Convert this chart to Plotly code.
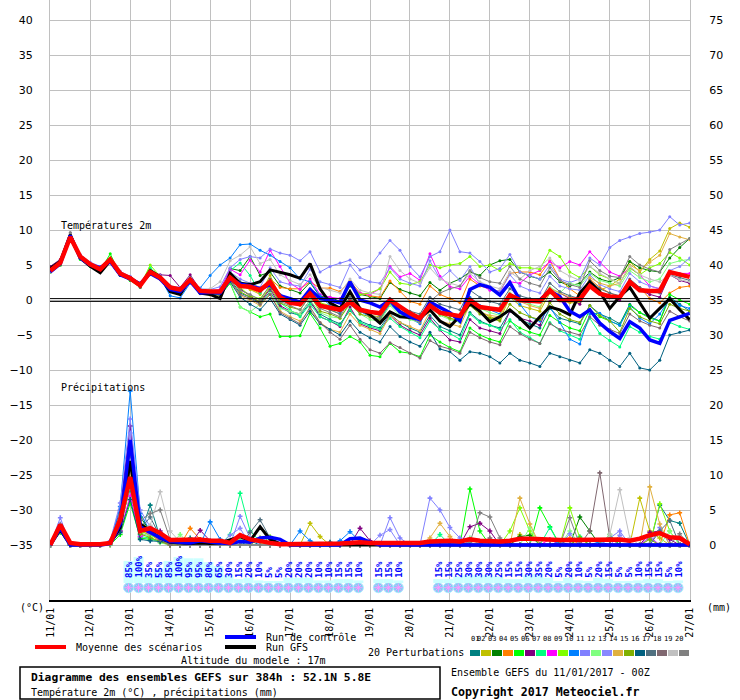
import plotly.graph_objects as go
import pandas as pd

# 6-hourly steps, 0 to 384h
times = pd.date_range("2017-01-11 00:00", periods=65, freq="6h")

member_colors = ["#008080", "#C0C000", "#008000", "#FF8000", "#00FF00",
                 "#800080", "#00FF80", "#FF00FF", "#80FF00", "#0080FF",
                 "#8080FF", "#80FF80", "#8888FF", "#E0B040", "#80B000",
                 "#006080", "#507080", "#806870", "#C0C0C0", "#808080"]

# ---- 2m temperature (degC) ----
mean_t = [4.2, 5.3, 9.0, 6.2, 5.1, 4.4, 5.8, 3.8, 3.1, 2.1, 4.0, 3.2, 1.8, 1.5, 2.9, 1.3, 1.2,
          1.2, 3.2, 2.0, 1.9, 1.4, 2.6, 0.4, -0.4, -0.6, 0.9, -0.8, -1.1, -1.4, -0.3, -1.4, -1.7,
          -1.9, 0.0, -1.0, -1.9, -2.6, -0.8, -1.8, -2.0, -2.3, 0.0, -1.0, -1.2, -1.4, 0.7, 0.0, -0.1,
          -0.2, 1.4, 0.0, 0.0, 0.1, 2.0, 0.9, 0.5, 0.4, 2.6, 1.4, 1.3, 1.3, 4.0, 3.6, 3.3]
ctrl_t = [4.0, 5.2, 9.2, 6.0, 5.0, 4.6, 5.5, 3.6, 3.0, 2.3, 3.8, 3.0, 1.5, 1.2, 2.7, 1.0, 1.1,
          1.0, 3.0, 2.3, 2.0, 1.6, 2.2, 0.6, 0.2, -0.3, 1.5, 0.2, 0.0, -0.4, 2.6, 0.0, -0.4,
          -1.0, 0.0, -1.7, -2.4, -2.8, -0.3, -1.0, -1.8, -3.0, 1.5, 2.2, 1.8, 0.7, 2.5, 0.0, -0.2,
          0.0, 1.3, 0.5, -1.6, -2.4, -1.4, -3.3, -4.5, -5.5, -3.1, -4.0, -5.7, -6.2, -2.9, -2.4, -1.9]
gfs_t = [4.5, 5.5, 9.3, 6.0, 4.8, 3.9, 5.6, 3.6, 3.2, 2.0, 4.2, 3.3, 1.2, 0.8, 3.0, 1.0, 0.8,
         0.2, 3.8, 2.4, 2.2, 2.6, 4.3, 4.0, 3.6, 3.1, 5.2, 1.6, -0.4, -1.2, 1.2, -1.2, -2.1,
         -3.3, -1.7, -2.4, -2.5, -2.6, -1.4, -3.0, -3.8, -2.3, -0.5, -1.6, -3.1, -2.4, -1.4, -2.6, -4.0,
         -2.4, -1.0, -1.4, -2.1, 1.0, 2.6, 1.2, -1.2, 0.5, 1.8, -0.5, -2.6, -1.2, 0.2, -1.4, -2.8]

t01 = [4.0, 5.0, 8.8, 6.0, 5.2, 4.5, 5.6, 3.5, 2.8, 2.0, 3.8, 3.0, 1.6, 1.0, 2.6, 1.2, 1.0,
       0.8, 3.0, 1.0, 0.4, -0.5, 1.2, -1.0, -1.8, -2.2, -0.4, -2.0, -2.8, -3.4, -1.5, -3.0, -3.6,
       -4.0, -2.0, -3.2, -4.0, -4.6, -2.2, -3.8, -4.4, -5.0, -1.8, -3.0, -3.6, -4.0, -1.6, -2.8, -3.4,
       -4.0, -1.2, -2.6, -3.0, -3.4, -0.8, -2.0, -2.6, -3.4, -0.6, -1.8, -2.4, -3.0, 0.4, -0.6, -1.6]
t02 = [4.4, 5.4, 9.1, 6.3, 5.0, 4.3, 5.9, 3.7, 3.0, 2.2, 4.2, 3.1, 1.7, 1.4, 3.0, 1.2, 1.1,
       1.0, 4.0, 2.2, 1.5, 0.8, 3.5, 0.5, -0.2, -0.8, 1.0, -1.0, -1.4, -2.0, 0.5, -1.6, -2.2,
       -2.4, -0.5, -1.6, -2.2, -3.0, -0.6, -2.0, -2.6, -3.0, -0.4, -1.6, -2.4, -2.8, 0.4, -0.8, -1.2,
       -1.6, 1.0, 0.0, -0.4, -0.4, 2.2, 1.4, 2.0, 3.0, 5.5, 4.0, 5.8, 7.0, 10.2, 11.0, 10.4]
t03 = [4.6, 5.6, 9.0, 6.0, 5.0, 4.5, 5.7, 3.9, 3.3, 2.3, 4.3, 3.5, 1.8, 1.5, 3.0, 1.4, 1.3,
       1.2, 4.5, 4.2, 6.2, 3.5, 4.0, 2.0, 1.5, 1.0, 2.5, 0.5, 0.4, -0.2, 2.0, 0.8, 0.5,
       0.2, 2.5, 1.5, 1.0, 0.6, 2.5, 1.4, 2.4, 3.0, 4.0, 3.5, 5.0, 5.6, 5.8, 4.0, 3.4,
       3.0, 4.0, 2.6, 2.0, 2.4, 4.0, 3.0, 2.6, 3.2, 5.5, 4.6, 4.2, 4.0, 6.0, 7.5, 8.8]
t04 = [4.3, 5.2, 8.9, 6.1, 5.1, 4.3, 5.7, 3.8, 3.2, 2.0, 3.9, 3.3, 1.9, 1.6, 2.9, 1.0, 0.8,
       0.9, 3.4, 2.0, 1.6, 1.0, 3.0, 1.8, 1.6, 1.6, 2.6, 1.7, 1.7, 1.2, 2.7, 1.0, 0.6,
       0.4, 2.7, 1.2, -0.2, -0.6, 2.0, 0.8, 0.2, -0.4, 3.0, 2.0, 1.6, 1.2, 3.8, 4.0, 4.0,
       3.6, 5.6, 3.0, 1.6, 0.6, 3.0, 1.8, 1.0, 0.4, 2.4, 1.8, 0.2, -0.4, 1.0, 1.8, 2.0]
t05 = [4.0, 5.0, 8.6, 5.8, 4.8, 4.2, 6.6, 3.6, 2.8, 1.8, 4.4, 3.0, 1.6, 1.3, 2.6, 1.0, 0.9,
       0.6, 2.4, -1.0, -1.7, -2.4, -2.0, -5.2, -5.2, -5.1, -1.9, -4.0, -6.6, -6.2, -5.2, -6.0, -7.9,
       -8.1, -6.2, -7.4, -7.6, -8.1, -5.0, -6.0, -6.8, -7.4, -4.0, -5.0, -5.6, -6.0, -3.0, -4.0, -4.6,
       -5.0, -2.2, -3.2, -4.0, -4.4, -1.4, -2.4, -3.0, -3.6, -0.8, -1.8, -2.6, -3.0, 0.8, 0.0, -0.6]
t06 = [4.8, 5.8, 9.3, 6.4, 5.2, 4.4, 5.9, 4.0, 3.3, 2.4, 4.1, 3.6, 3.5, 1.8, 3.6, 1.5, 1.2,
       1.1, 3.1, 1.6, 0.6, -0.4, 1.6, -0.8, -1.6, -2.0, 0.0, -2.4, -3.0, -3.8, -1.0, -3.4, -4.0,
       -4.4, -2.2, -3.6, -4.4, -5.0, -2.6, -4.3, -5.7, -6.0, -2.8, -4.0, -4.4, -4.8, -1.6, -2.6, -3.0,
       -3.6, -0.2, 1.0, 0.2, -0.6, 2.2, 1.0, 0.4, 0.0, 2.6, 1.4, 0.8, 0.4, 3.6, 2.8, 2.4]
t07 = [4.1, 5.1, 8.9, 6.2, 5.2, 4.6, 5.8, 3.6, 3.0, 2.2, 4.6, 3.2, 1.7, 1.4, 2.8, 1.3, 1.2,
       1.4, 4.2, 5.3, 3.5, 1.0, 2.4, -0.4, -1.4, -2.4, -0.6, -2.4, -3.0, -3.6, -1.4, -3.2, -3.8,
       -4.2, -2.6, -3.8, -4.6, -5.4, -3.0, -4.2, -4.8, -5.6, -2.0, -3.2, -3.6, -4.2, -2.8, -4.6, -5.4,
       -6.2, -3.2, -4.4, -5.0, -5.6, -2.6, -4.8, -5.8, -6.7, -3.8, -4.6, -5.2, -5.6, -3.2, -3.8, -4.2]
t08 = [4.5, 5.5, 9.0, 6.1, 5.0, 4.3, 5.6, 3.7, 3.1, 2.3, 4.1, 3.1, 1.8, 1.6, 3.1, 1.4, 1.3,
       1.5, 4.4, 3.6, 5.7, 4.0, 7.1, 4.8, 2.4, 1.5, 3.0, 0.8, 0.4, 0.2, 2.2, 1.0, 0.8,
       1.6, 4.8, 3.3, 3.8, 2.8, 6.6, 3.4, 1.9, 1.6, 3.4, 2.2, 1.4, 1.2, 2.6, 2.4, 3.6,
       4.2, 5.5, 4.6, 5.5, 5.0, 6.9, 5.4, 4.0, 3.4, 4.6, 3.6, 2.0, 1.6, 3.6, 3.8, 3.8]
t09 = [4.2, 5.2, 9.1, 6.3, 5.1, 4.4, 6.0, 3.9, 3.2, 2.0, 5.0, 3.4, 1.7, 1.5, 3.2, 1.2, 1.0,
       0.8, 3.0, 1.8, 0.6, 0.2, 2.0, 0.4, -0.2, -0.6, 1.4, -0.4, -0.8, -1.2, 2.4, 0.8, 1.0,
       1.6, 4.0, 2.4, 2.2, 2.6, 5.0, 4.6, 5.0, 5.2, 6.2, 4.8, 5.0, 4.2, 5.2, 4.6, 4.6,
       4.4, 7.1, 6.2, 4.0, 3.2, 4.8, 3.6, 3.0, 2.4, 4.6, 3.6, 4.6, 5.2, 6.8, 6.0, 5.0]
t10 = [4.3, 5.3, 9.0, 6.2, 5.2, 4.5, 5.7, 3.8, 3.0, 2.0, 3.8, 3.2, 0.6, 0.3, 2.4, 1.7, 3.5,
       5.0, 6.0, 7.9, 8.0, 7.1, 6.4, 5.5, 4.6, 3.0, 2.6, 0.6, -0.8, -1.8, 0.2, -1.6, -2.4,
       -2.8, -0.6, -2.0, -2.6, -3.4, -0.4, -1.6, -2.2, -2.8, 0.4, -0.8, -1.4, -2.0, 0.8, -0.6, -2.4,
       -3.0, -1.0, -3.2, -5.6, -6.3, -2.0, -1.9, -3.0, -3.6, -1.0, -2.6, -3.4, -2.0, 0.2, -0.8, -1.2]
t11 = [4.4, 5.6, 9.2, 6.5, 5.4, 4.8, 5.7, 4.0, 3.4, 2.4, 3.9, 3.5, 2.0, 1.8, 3.2, 1.6, 1.5,
       1.9, 4.6, 5.8, 6.2, 6.0, 7.3, 6.7, 6.4, 5.6, 6.9, 4.0, 4.8, 5.3, 5.7, 4.3, 4.8,
       6.7, 8.5, 7.1, 4.8, 3.3, 6.2, 6.9, 10.0, 6.9, 6.7, 5.5, 4.0, 4.5, 6.5, 4.0, 3.5,
       3.0, 5.0, 3.0, 2.5, 3.0, 6.0, 5.0, 7.5, 8.5, 9.0, 9.5, 9.7, 10.0, 11.9, 10.7, 11.0]
t12 = [4.0, 5.1, 8.8, 6.0, 4.9, 4.2, 5.5, 3.5, 2.9, 1.9, 3.6, 3.0, 1.5, 1.2, 2.6, 1.1, 1.0,
       0.9, 2.6, -1.0, -1.7, -0.6, 1.0, -1.2, -1.6, -2.0, 0.0, -1.8, -2.4, -2.6, -0.6, -2.0, -2.8,
       -3.0, -0.8, -2.2, -2.8, -3.2, -1.0, -2.2, -2.8, -3.2, 0.0, -1.2, -1.8, -2.2, 1.0, 0.0, -0.6,
       -1.0, 1.8, 1.0, 2.4, 2.0, 3.8, 2.8, 2.4, 2.0, 4.2, 3.2, 2.6, 3.0, 5.2, 5.6, 5.8]
t13 = [4.5, 5.4, 9.1, 6.3, 5.3, 4.6, 5.8, 4.1, 3.3, 2.2, 4.0, 3.3, 1.9, 1.7, 3.0, 1.5, 1.4,
       1.3, 4.0, 3.0, 2.4, 1.8, 4.6, 2.6, 2.2, 2.0, 4.4, 2.6, 2.2, 1.8, 5.0, 3.2, 2.6,
       2.4, 4.6, 3.0, 2.4, 2.0, 5.6, 3.0, 4.2, 2.8, 4.8, 2.2, 1.6, 1.2, 3.6, 2.0, 1.4,
       1.0, 3.4, 2.0, 1.6, 1.4, 3.6, 2.2, 1.6, 1.2, 3.8, 2.6, 2.0, 1.6, 4.2, 4.8, 6.0]
t14 = [4.1, 5.2, 8.9, 6.0, 5.0, 4.3, 5.6, 3.7, 3.0, 2.1, 3.9, 3.1, 1.6, 1.3, 2.8, 0.9, 0.7,
       0.6, 2.8, 0.6, 0.0, -0.8, 0.8, -1.6, -2.4, -3.0, -1.4, -3.2, -4.2, -4.6, -2.0, -3.6, -4.2,
       -4.8, -2.2, -3.2, -3.8, -4.4, -1.6, -3.0, -3.4, -3.8, -0.6, -1.8, -2.2, -2.4, 0.6, -0.2, -0.8,
       -1.2, 1.6, 1.0, 0.4, 0.0, 3.2, 2.4, 2.0, 2.4, 5.0, 4.2, 5.4, 6.4, 9.5, 9.0, 8.6]
t15 = [4.2, 5.0, 8.8, 6.0, 5.0, 4.4, 5.6, 3.8, 3.1, 2.1, 3.9, 3.2, 1.7, 1.5, 2.8, 1.2, 1.1,
       1.0, 3.6, 1.2, 0.4, -0.2, 1.8, -0.4, -1.0, -1.4, 0.6, -1.6, -2.0, -2.6, -0.4, -2.0, -2.4,
       -2.8, -0.2, -1.6, -2.2, -2.8, -0.6, -2.0, -2.6, -3.0, -0.8, -2.0, -2.6, -3.0, -0.6, -1.8, -2.4,
       -2.8, -0.4, -2.0, -2.8, -3.2, -0.8, -2.2, -3.0, -4.6, -1.2, -2.4, -3.0, -3.4, -0.6, -1.2, -1.6]
t16 = [4.3, 5.1, 8.9, 6.1, 5.0, 4.2, 5.6, 3.5, 2.9, 2.0, 3.7, 3.0, 1.3, 1.0, 2.5, 1.0, 0.9,
       0.7, 2.6, 0.4, -0.6, -1.4, 0.2, -2.0, -2.8, -3.6, -1.6, -3.4, -4.2, -5.0, -3.0, -4.6, -5.4,
       -6.0, -3.8, -5.2, -6.0, -6.6, -4.6, -7.0, -7.4, -8.6, -7.4, -7.6, -8.1, -9.0, -7.6, -8.6, -9.0,
       -9.5, -7.6, -8.1, -8.6, -9.0, -7.1, -7.6, -8.6, -9.5, -7.6, -9.7, -10.0, -8.6, -5.0, -4.6, -4.3]
t17 = [4.4, 5.3, 9.0, 6.2, 5.1, 4.5, 5.9, 3.8, 3.2, 2.2, 4.1, 3.2, 1.9, 1.6, 3.0, 1.3, 1.2,
       1.2, 3.4, 2.6, 1.8, 1.2, 3.0, 0.8, 0.2, -0.4, 1.6, -0.8, -1.4, -2.0, 0.4, -1.4, -1.8,
       -2.2, 0.2, -1.0, -1.6, -2.0, 0.4, -0.6, -1.0, -1.4, 1.4, 0.4, -0.2, -0.6, 1.6, 0.6, 0.2,
       -0.2, 2.4, 1.2, 0.6, 0.2, 2.8, 1.6, 1.0, 0.6, 3.0, 1.8, 1.2, 1.0, 3.6, 3.2, 2.8]
t18 = [4.6, 5.5, 9.6, 6.3, 5.0, 4.4, 5.8, 3.6, 3.0, 1.8, 3.8, 3.0, 1.6, 1.4, 2.7, 1.1, 1.0,
       0.8, 2.8, 0.8, 0.2, -0.6, 0.8, -1.8, -2.6, -3.4, -1.0, -3.2, -4.6, -5.6, -3.6, -5.6, -7.1,
       -7.6, -6.1, -6.8, -7.6, -8.3, -5.8, -6.6, -7.0, -7.6, -4.6, -5.4, -6.0, -6.4, -3.8, -4.8, -5.6,
       -6.2, -3.4, -4.2, -4.6, -5.0, -2.4, -3.6, -4.2, -4.8, -2.0, -3.0, -3.6, -4.0, -1.6, -2.4, -3.0]
t19 = [4.2, 5.3, 9.2, 6.2, 5.1, 4.5, 5.9, 3.8, 3.2, 2.2, 4.2, 3.2, 1.8, 1.6, 3.1, 1.5, 1.6,
       2.6, 5.6, 6.4, 7.6, 5.2, 5.8, 3.6, 2.8, 2.2, 3.6, 1.8, 1.4, 1.0, 3.0, 1.4, 1.0,
       0.8, 6.2, 4.2, 3.0, 2.4, 4.6, 3.0, 2.4, 2.0, 3.8, 2.6, 2.0, 1.6, 4.0, 3.0, 4.2,
       4.8, 6.0, 4.2, 3.4, 2.8, 4.8, 3.8, 3.0, 2.4, 4.8, 3.6, 3.0, 2.6, 3.6, 2.9, 2.6]
t20 = [4.0, 5.2, 9.6, 6.1, 5.0, 4.3, 5.8, 3.7, 3.0, 2.0, 3.9, 3.1, 1.7, 1.4, 2.8, 1.1, 1.0,
       0.9, 3.2, 1.4, 0.8, 0.0, 2.2, -0.2, -0.8, -1.4, 0.6, -1.2, -1.8, -2.4, 0.2, -1.6, -2.2,
       -2.6, -0.4, -1.8, -2.6, -3.2, -0.2, 1.0, 1.6, 2.0, 4.2, 3.2, 2.6, 2.4, 4.8, 3.0, 2.4,
       2.0, 4.6, 2.8, 2.2, 1.8, 5.6, 4.2, 3.4, 3.2, 6.2, 5.0, 4.4, 4.0, 7.2, 8.0, 8.8]

# ---- 6h precipitation (mm) ----
mean_p = [0, 2.9, 0.3, 0.1, 0.1, 0.1, 0.3, 3.6, 9.7, 2.0, 2.4, 1.7, 0.7, 0.7, 0.7, 0.8,
          0.6, 0.6, 0.3, 1.4, 0.8, 0.5, 0.3, 0.1, 0.1, 0.1, 0.1, 0.1, 0.1, 0.2, 0.3, 0.4,
          0.3, 0.3, 0.2, 0.2, 0.2, 0.3, 0.5, 0.6, 0.6, 0.5, 0.8, 0.6, 0.5, 0.5, 0.6, 0.9,
          0.9, 0.8, 0.7, 0.7, 0.7, 0.7, 0.8, 0.8, 0.8, 0.8, 0.6, 0.9, 1.4, 1.7, 1.1, 1.0, 0.1]
ctrl_p = [0, 2.4, 0, 0, 0, 0, 0.2, 3.0, 15.0, 2.6, 1.8, 1.0, 0.5, 0.4, 0.3, 0.6,
          0.4, 0.3, 0.2, 0.5, 0.4, 1.0, 1.1, 0.8, 0, 0, 0, 0, 0, 0, 0.9, 1.0,
          0.4, 0, 0, 0, 0, 0, 0, 0, 0, 0, 0, 0, 0, 0, 0, 0,
          0, 0, 0, 0, 0, 0, 0, 0, 0, 0, 0, 0, 0, 0, 0, 0, 0]
gfs_p = [0, 2.2, 0, 0, 0, 0, 0.3, 2.5, 12.0, 3.0, 2.0, 1.0, 0.4, 0.3, 0.2, 0.3,
         0.2, 0.3, 0.8, 1.2, 0.6, 2.6, 0.8, 0.2, 0, 0, 0, 0, 0, 0, 0, 0,
         0, 0, 0, 0, 0, 0, 0, 0, 0, 0, 0, 0, 0, 0, 0, 0,
         0, 0, 0, 0, 0, 0, 0, 0, 0, 0, 0, 0, 0, 0, 0, 0, 0]

p01 = [0, 2.0, 0, 0, 0, 0, 0.2, 3.0, 8.0, 1.5, 5.7, 1.0, 0.5, 0, 1.0, 0,
       0, 0, 0, 0, 0.6, 0, 0, 0, 0, 0, 0, 0, 0, 0, 0, 0,
       0, 0, 0, 0, 0, 0, 0, 0, 0, 0, 0, 0, 0, 0, 0, 0,
       0, 0, 0, 0, 0, 0, 0, 0, 0, 0, 0, 0, 0, 5.7, 3.5, 3.1, 0]
p02 = [0, 2.6, 0, 0, 0, 0, 0.3, 4.5, 11.0, 3.0, 2.5, 1.0, 0.8, 0, 0, 0,
       0, 0, 0, 0, 0, 0, 0, 0, 0, 0, 3.1, 1.2, 0, 0, 0, 0,
       0, 0, 0, 0, 0, 0, 0, 0, 0, 0, 0, 0, 0, 0, 0, 1.5,
       0, 0, 0, 0, 0, 0, 0, 0, 0, 0, 0, 6.7, 2.0, 1.0, 0, 0, 0]
p03 = [0, 2.2, 0, 0, 0, 0, 0.1, 2.0, 9.0, 4.0, 2.0, 1.0, 0.4, 0, 0, 0.8,
       0, 0, 0, 0, 0, 0, 0, 0, 0, 0, 0, 0, 0, 0, 0, 0,
       0, 0, 0, 0, 0, 0, 0, 0, 0, 0, 0, 0, 0, 0, 0, 1.2,
       1.4, 0, 0, 0, 0, 4.0, 2.0, 0, 0, 0, 0, 0, 0, 0, 0, 0, 0]
p04 = [0, 2.8, 0, 0, 0, 0, 0.2, 3.5, 14.0, 2.0, 1.5, 0.5, 0, 0, 2.4, 0.8,
       0, 0, 0, 0, 0, 0, 0, 0, 0, 0, 0, 0, 0, 0, 0, 0,
       0, 0, 0, 0, 0, 0, 0, 0, 0, 0, 0, 0, 0, 0, 0, 0,
       0, 0, 0, 0, 1.0, 0, 0, 0, 0, 0, 0, 0, 0, 0, 4.3, 4.6, 0]
p05 = [0, 1.8, 0, 0, 0, 0, 0, 1.5, 6.0, 1.0, 0.8, 0.6, 0, 0, 0, 0,
       0, 0, 0, 0.8, 0, 0, 0, 0, 0, 0, 0, 0, 0, 0, 0, 0,
       0, 0, 0, 0, 0, 0, 0, 0, 0, 0, 8.0, 2.0, 0, 0, 0, 0,
       0, 5.3, 2.6, 0, 0, 0, 0, 0, 1.5, 0, 0, 0, 0, 0, 0, 0, 0]
p06 = [0, 2.4, 0, 0, 0, 0, 0.5, 5.0, 17.0, 2.5, 1.5, 2.0, 0.8, 0, 0, 2.1,
       0.6, 0, 0, 0, 0, 0, 0, 0, 0, 0, 0, 0, 0, 0, 0, 2.4,
       0.6, 0, 0, 0, 0, 0, 0, 0, 0, 0, 2.6, 3.1, 2.0, 0, 0, 0,
       0, 0, 0, 0, 0, 0, 0, 0, 0, 0, 0, 0, 1.8, 2.0, 0.8, 0, 0]
p07 = [0, 2.0, 0, 0, 0, 0, 0.2, 2.5, 10.0, 1.2, 1.0, 0.4, 0, 0, 0, 0,
       0, 0, 1.5, 7.4, 2.0, 0.5, 0, 0, 0, 0, 0, 0, 0, 0, 0, 0,
       0, 0, 0, 0, 0, 0, 0, 1.5, 0, 0, 0, 0, 0, 0, 0, 0,
       0, 0, 2.5, 0, 0, 1.2, 0, 0, 0, 0, 0, 0, 0, 0, 0, 0, 0]
p08 = [0, 2.5, 0, 0, 0, 0, 0, 2.0, 7.0, 1.2, 1.8, 0.4, 0, 0, 0, 0,
       0, 0, 0, 1.0, 0, 0, 0, 0, 0, 0, 0, 0, 0, 0, 0, 0,
       0, 0, 0, 0, 0, 0, 0, 0, 0, 0, 0, 0, 0, 0, 0, 0,
       0, 0, 0.8, 0, 0, 0, 0, 0, 0, 0, 0, 0, 1.2, 0, 0, 0, 0]
p09 = [0, 2.2, 0, 0, 0, 0, 0.3, 3.8, 12.0, 2.0, 1.4, 0.8, 0, 0, 0, 0,
       0, 0, 0, 0, 0, 0, 1.2, 0, 0, 0, 0, 0, 0, 0, 0, 0,
       0, 0, 0, 0, 0, 0, 0, 0, 0, 0, 0, 0, 0, 0, 2.0, 5.3,
       2.0, 0, 0, 0, 5.3, 1.0, 0, 0, 0, 0, 0, 0, 0, 5.9, 2.0, 0, 0]
p10 = [0, 2.6, 0, 0, 0, 0, 0.4, 5.5, 22.0, 4.5, 2.0, 1.0, 0, 0, 0, 0,
       3.3, 0.8, 0, 0, 0, 0, 0, 0, 0, 2.0, 0.6, 0, 0, 0.6, 1.9, 0.5,
       0, 0, 0, 0, 0, 0, 0, 0, 0, 0, 0, 0, 0, 0, 0, 0,
       0, 0, 0, 0.5, 0, 0, 0, 0.5, 0, 0, 0, 0, 0, 0, 0, 0, 0]
p11 = [0, 3.9, 0, 0, 0, 0, 0.6, 6.0, 18.0, 5.0, 2.6, 1.5, 0.6, 0, 0, 0,
       0, 0, 0, 4.1, 1.0, 0, 0, 0, 0, 0, 0, 0, 0, 0, 0, 0,
       0, 0, 3.9, 1.0, 0, 0, 6.7, 5.0, 2.5, 1.0, 0, 0, 0, 0, 0, 0,
       0, 0, 0, 0, 0, 0, 0, 0, 1.0, 2.0, 0, 0, 0, 2.5, 0, 0, 0]
p12 = [0, 1.9, 0, 0, 0, 0, 0, 2.4, 8.5, 1.8, 1.2, 0.3, 0, 1.5, 0, 0,
       0, 0, 0, 0.8, 0, 0, 0, 0, 0, 0, 0, 0, 0, 0, 0, 0,
       0, 0, 0, 0, 0, 0, 0, 0, 0, 0, 1.0, 0, 0, 0, 0, 0,
       2.5, 0, 0, 0, 2.0, 0, 0, 0, 0, 0, 0, 0, 0, 0, 2.0, 0, 0]
p13 = [0, 3.0, 0, 0, 0, 0, 0.3, 4.0, 16.0, 2.8, 1.6, 1.0, 0, 0, 0, 0,
       0, 0, 1.4, 2.4, 0, 0, 0, 0, 0, 0, 0, 0, 0, 0, 0, 0,
       0, 1.4, 2.2, 0, 0, 0, 0, 0, 0, 0, 0, 0, 0, 0, 0, 0,
       0, 0, 0, 0, 1.6, 0, 0, 0, 0, 1.4, 0, 0, 1.0, 0, 0, 0, 0]
p14 = [0, 2.3, 0, 0, 0, 0, 0.2, 3.0, 10.0, 2.4, 1.8, 0.6, 0, 0, 0, 0,
       0, 0, 0, 0, 0, 0, 0, 0, 0, 0, 0, 0, 0, 0, 0, 0,
       0, 0, 0, 0, 0, 0, 1.0, 3.1, 1.2, 0, 0, 0, 0, 0, 0, 6.7,
       3.0, 0, 0, 0, 0, 0, 0, 0, 0, 0, 0, 0, 8.3, 3.0, 0, 0, 0]
p15 = [0, 2.1, 0, 0, 0, 0, 0.1, 2.6, 9.5, 1.6, 1.0, 0.5, 0, 0, 0, 0,
       0, 0, 0, 0, 0, 1.0, 0, 0, 0, 0, 0, 0, 0, 0, 0, 0,
       0, 0, 0, 0, 0, 0, 0, 0, 0, 0, 0, 0, 0, 0, 0, 0,
       0, 0, 0, 0, 0, 1.0, 0, 0, 0, 0, 0, 0, 0.8, 0, 0, 0, 0]
p16 = [0, 2.0, 0, 0, 0, 0, 0.3, 1.8, 6.5, 0.8, 0.6, 0.5, 0.3, 0.3, 0.3, 0,
       0, 0, 0, 0, 0, 0, 0, 0, 0, 0, 0, 0, 0.4, 0, 0, 0,
       0, 0, 0, 0, 0, 0, 0, 0, 0, 0, 0, 0, 0, 0.5, 0, 0,
       0, 0, 0, 0, 0, 0, 0, 0, 0, 0, 0, 0, 0, 0, 0, 0, 0]
p17 = [0, 2.4, 0, 0, 0, 0, 0.2, 3.2, 13.0, 2.2, 4.0, 1.2, 0.5, 0, 0, 0,
       0, 0, 0, 0, 1.8, 3.6, 1.0, 0, 0, 0, 0, 0, 0, 0, 0, 0,
       0, 0, 0, 0, 0, 0, 0, 0, 0, 0, 0, 0, 0, 0, 0, 0,
       0, 0, 0, 0, 0, 0, 0, 0, 0, 0, 0, 0, 0, 2.0, 3.5, 0, 0]
p18 = [0, 2.7, 0, 0, 0, 0, 0.4, 3.8, 11.0, 2.6, 2.0, 0.8, 0, 0, 0, 0,
       0, 0, 0, 0, 0, 0, 0, 0, 0, 0, 0, 0, 0, 0, 0, 0,
       0, 0, 0, 0, 0, 0, 0, 0, 0, 0, 0, 0, 1.0, 0, 0, 0,
       0, 0, 0, 0, 0, 0, 2.0, 10.3, 1.0, 0, 0, 0, 0, 0, 0, 0, 0]
p19 = [0, 2.5, 0, 0, 0, 0, 0.2, 3.2, 12.0, 2.0, 2.8, 7.6, 2.0, 0.4, 0, 0,
       0, 0, 0, 0, 0, 0, 0, 0, 0, 0, 0, 0, 0, 0, 0, 0,
       0, 0, 0, 0, 0, 0, 0, 0, 0, 0, 0, 0, 0, 0, 0, 0,
       0, 0, 0, 0, 0, 0, 0, 0, 1.5, 7.9, 1.0, 0, 0, 0, 0, 0, 0]
p20 = [0, 2.9, 0, 0, 0, 0, 0.3, 4.2, 14.0, 3.5, 4.5, 5.0, 0.8, 0, 0, 0,
       0, 0, 0, 0, 0, 0, 0, 0, 0, 0, 0, 0, 0, 0, 0, 0,
       0, 0, 0, 0, 0, 0, 0, 0, 0, 0, 0.4, 4.6, 4.0, 1.0, 0, 0,
       0, 0, 0, 0, 3.9, 0, 0, 0, 0, 0, 0, 0, 0, 0, 0, 1.6, 0]

member_temps = [t01, t02, t03, t04, t05, t06, t07, t08, t09, t10,
                t11, t12, t13, t14, t15, t16, t17, t18, t19, t20]
member_precs = [p01, p02, p03, p04, p05, p06, p07, p08, p09, p10,
                p11, p12, p13, p14, p15, p16, p17, p18, p19, p20]

# probability of precipitation per 6h period, first period ends 13/01 00Z
prob_pct = [85, 100, 35, 55, 85, 100, 95, 95, 80, 65, 30, 15, 20, 10, 5, 5,
            20, 20, 20, 10, 10, 15, 15, 10, None, 15, 15, 10, None, None, None,
            15, 15, 25, 30, 30, 30, 25, 15, 15, 30, 35, 20, 5, 20, 10, 5, 20,
            15, 5, 5, 10, 15, 15, 5, 10]
period_end = pd.date_range("2017-01-13 00:00", periods=len(prob_pct), freq="6h")

MONO = "DejaVu Sans Mono"

fig = go.Figure()

# ensemble members
for temps, color in zip(member_temps, member_colors):
    fig.add_trace(go.Scatter(x=times, y=temps, mode="lines+markers",
                             line=dict(color=color, width=1),
                             marker=dict(size=3, color=color),
                             hoverinfo="skip", showlegend=False))
for precs, color in zip(member_precs, member_colors):
    fig.add_trace(go.Scatter(x=times, y=precs, yaxis="y2", mode="lines+markers",
                             line=dict(color=color, width=1),
                             marker=dict(size=4, color=color, symbol="cross"),
                             hoverinfo="skip", showlegend=False))

# GFS, control, mean
for tvals, pvals, color, w in [(gfs_t, gfs_p, "#000000", 3),
                               (ctrl_t, ctrl_p, "#0000FF", 3.5),
                               (mean_t, mean_p, "#FF0000", 4.5)]:
    fig.add_trace(go.Scatter(x=times, y=tvals, mode="lines",
                             line=dict(color=color, width=w),
                             hoverinfo="skip", showlegend=False))
    fig.add_trace(go.Scatter(x=times, y=pvals, yaxis="y2", mode="lines",
                             line=dict(color=color, width=w),
                             hoverinfo="skip", showlegend=False))

# precipitation probability band
band_x = [t - pd.Timedelta(hours=1) for t, p in zip(period_end, prob_pct) if p is not None]
band_p = [p for p in prob_pct if p is not None]
fig.add_trace(go.Bar(x=band_x, y=band_p, yaxis="y3", width=6 * 3600 * 1000,
                     marker=dict(color="#CCFFFF", line=dict(width=0)),
                     hoverinfo="skip", showlegend=False))
fig.add_trace(go.Scatter(x=band_x, y=[-41.1] * len(band_x), mode="markers",
                         marker=dict(size=10, color="#80D0F4",
                                     line=dict(color="#B0E6FF", width=1)),
                         hoverinfo="skip", showlegend=False))
fig.add_trace(go.Scatter(x=band_x, y=[-41.1] * len(band_x), mode="markers",
                         marker=dict(size=7, symbol="asterisk-open",
                                     line=dict(color="#3C8EEA", width=1)),
                         hoverinfo="skip", showlegend=False))

annotations = []
for x, p in zip(band_x, band_p):
    annotations.append(dict(x=x, xref="x", y=(600 - 580) / 600, yref="paper",
                            text="<b>%d%%</b>" % p, textangle=-90, showarrow=False,
                            xanchor="center", yanchor="bottom",
                            font=dict(family=MONO, size=9, color="#0000FF")))


def px_x(px):
    return (px - 50) / 640


def px_y(py):
    return (600 - py) / 600


def label(text, x, y, size=10, anchor="left", bold=False):
    annotations.append(dict(x=px_x(x), y=px_y(y), xref="paper", yref="paper",
                            text="<b>%s</b>" % text if bold else text,
                            showarrow=False, xanchor=anchor, yanchor="middle",
                            font=dict(family=MONO, size=size, color="#000000")))


label("Températures 2m", 59, 225)
label("Précipitations", 59, 387)
label("(°C)", 32, 607, anchor="center")
label("(mm)", 719, 607, anchor="center")
label("Moyenne des scénarios", 74, 647)
label("Run de contrôle", 264, 637)
label("Run GFS", 264, 647)
label("Altitude du modele : 17m", 179, 660)
label("20 Perturbations", 366, 652)
label("Diagramme des ensembles GEFS sur 384h : 52.1N 5.8E", 29, 678, size=11.3, bold=True)
label("Température 2m (°C) , précipitations (mm)", 29, 692)
label("Ensemble GEFS du 11/01/2017 - 00Z", 449, 672)
label("Copyright 2017 Meteociel.fr", 449, 692, size=11.6, bold=True)

shapes = [
    dict(type="line", xref="paper", yref="y", x0=0, x1=1, y0=0.2, y1=0.2,
         line=dict(color="black", width=1)),
    dict(type="line", xref="paper", yref="y", x0=0, x1=1, y0=-0.2, y1=-0.2,
         line=dict(color="black", width=1)),
    dict(type="line", xref="paper", yref="paper", x0=px_x(35), x1=px_x(66),
         y0=px_y(647), y1=px_y(647), line=dict(color="#FF0000", width=4)),
    dict(type="line", xref="paper", yref="paper", x0=px_x(225), x1=px_x(256),
         y0=px_y(637), y1=px_y(637), line=dict(color="#0000FF", width=4)),
    dict(type="line", xref="paper", yref="paper", x0=px_x(225), x1=px_x(256),
         y0=px_y(647), y1=px_y(647), line=dict(color="#000000", width=4)),
    dict(type="rect", xref="paper", yref="paper", x0=px_x(20), x1=px_x(440),
         y0=px_y(667), y1=px_y(699), line=dict(color="black", width=1.5)),
]
for j, color in enumerate(member_colors):
    left = 470 + 11 * j
    shapes.append(dict(type="rect", xref="paper", yref="paper",
                       x0=px_x(left), x1=px_x(left + 10), y0=px_y(650), y1=px_y(656),
                       fillcolor=color, line=dict(width=0)))
    annotations.append(dict(x=px_x(left + 5), y=px_y(644), xref="paper", yref="paper",
                            text="%02d" % (j + 1), showarrow=False, borderpad=0,
                            font=dict(family=MONO, size=7, color="black")))

yr = 300 / 7
fig.update_layout(
    width=740, height=700,
    margin=dict(l=50, r=50, t=0, b=100),
    plot_bgcolor="white", paper_bgcolor="white",
    showlegend=False,
    xaxis=dict(type="date", range=["2017-01-10 23:50", "2017-01-27 00:10"],
               tick0="2017-01-11", dtick=86400000, tickformat="%d/%m",
               tickangle=-90, ticks="", ticklabelstandoff=2,
               showgrid=True, gridcolor="#C0C0C0", gridwidth=1,
               showline=True, linecolor="black", linewidth=1.5,
               tickfont=dict(family=MONO, size=10, color="black")),
    yaxis=dict(range=[-yr, yr], tickvals=list(range(-35, 45, 5)),
               showgrid=True, gridcolor="#C0C0C0", gridwidth=1, zeroline=False,
               ticks="", ticklabelstandoff=14,
               showline=True, linecolor="#C0C0C0",
               tickfont=dict(family="DejaVu Sans", size=11, color="black")),
    yaxis2=dict(range=[-yr + 35, yr + 35], tickvals=list(range(0, 80, 5)),
                overlaying="y", side="right", showgrid=False, zeroline=False,
                ticks="", ticklabelstandoff=16,
                showline=True, linecolor="#C0C0C0",
                tickfont=dict(family="DejaVu Sans", size=11, color="black")),
    yaxis3=dict(range=[-65.4, 2242.3], overlaying="y", visible=False),
    annotations=annotations,
    shapes=shapes,
)

fig.write_html("out.html", config={"displayModeBar": False},
               post_script="document.body.style.margin='0px';document.body.style.overflow='hidden';")
